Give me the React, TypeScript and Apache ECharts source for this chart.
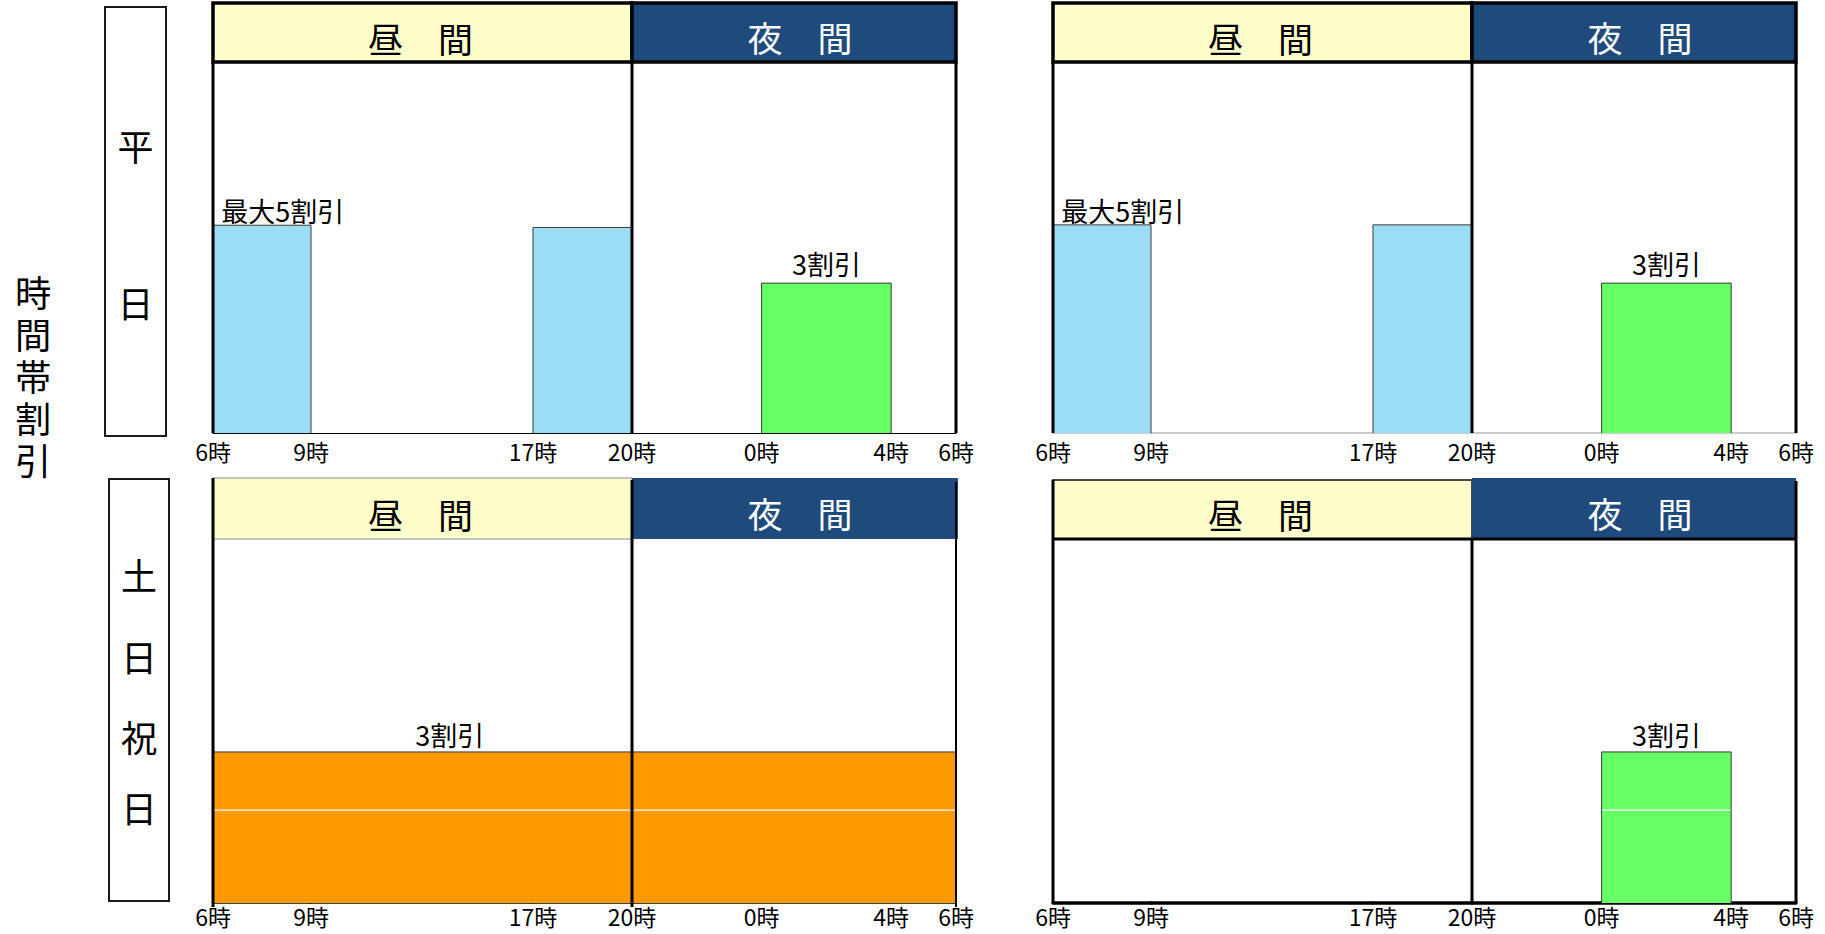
import React, { useEffect, useRef } from "react";
import * as echarts from "echarts";

// ---- data ----
// panels: 0 = 平日 (left), 1 = 平日 (right), 2 = 土日祝日 (left), 3 = 土日祝日 (right)
const rowTitles = ["平日", "土日祝日"];
const sideTitle = "時間帯割引";
const dayHeader = "昼　間";
const nightHeader = "夜　間";

// bars: hours (night hours after midnight written as 24+h)
const barPanel = [0, 0, 0, 1, 1, 1, 2, 2, 3];
const barStart = [6, 17, 24, 6, 17, 24, 6, 20, 24];
const barEnd = [9, 20, 28, 9, 20, 28, 20, 30, 28];
const barValue = [56, 55.4, 40.4, 56.1, 56.1, 40.4, 41.5, 41.5, 41.5];
const barSplit = [0, 0, 0, 0, 0, 0, 25.5, 25.5, 25.5];
const barKind = ["peak", "peak", "night", "peak", "peak", "night", "holiday", "holiday", "night"];

// annotations
const noteText = ["最大5割引", "3割引", "最大5割引", "3割引", "3割引", "3割引"];
const notePanel = [0, 0, 1, 1, 2, 3];
const noteHour = [6.25, 26, 6.25, 26, 14, 26];
const noteValue = [56, 40.4, 56.1, 40.4, 41.5, 41.5];
const noteAlign = ["left", "center", "left", "center", "center", "center"];

// axis: the diagram's time scale is drawn in segments (6-9, 9-17, 17-20, 20-6)
const segHours = [6, 9, 17, 20, 30];
const segTicks = [[6], [9], [17, 20], [24, 28, 30]];

// ---- layout / style ----
const FONT = "'Noto Sans CJK JP', 'Noto Sans', sans-serif";
const kindColor: Record<string, string> = {
  peak: "#9BDEF4",
  night: "#66FF66",
  holiday: "#FF9900",
};
const YELLOW = "#FFFFCC";
const NAVY = "#1F4A7C";
const panelLeft = [213, 1053, 213, 1053];
const segWidths = [98, 222, 99, 324];
const dayW = 419;
const nightW = 324;
const rowPlotTop = [62, 62, 539, 539];
const rowPlotBottom = [433, 433, 903, 903];
const rowHeaderTop = [3, 3, 478, 478];
const noteLift = [1, 6, 1, 6, 4, 4];
const axisStyle = [
  { color: "#000", width: 1.2 },
  { color: "#bbbbbb", width: 1.5 },
  { color: "#000", width: 1.5 },
  { color: "#000", width: 3.5 },
];

function buildOption() {
  const grid: any[] = [];
  const xAxis: any[] = [];
  const yAxis: any[] = [];
  const series: any[] = [];
  const graphic: any[] = [];

  for (let p = 0; p < 4; p++) {
    let x0 = panelLeft[p];
    for (let k = 0; k < segWidths.length; k++) {
      const gi = grid.length;
      const h0 = segHours[k];
      const h1 = segHours[k + 1];
      grid.push({
        left: x0,
        top: rowPlotTop[p],
        width: segWidths[k],
        height: rowPlotBottom[p] - rowPlotTop[p],
      });
      x0 += segWidths[k];
      xAxis.push({
        type: "value",
        gridIndex: gi,
        min: h0,
        max: h1,
        axisLine: { show: true, onZero: false, lineStyle: axisStyle[p] },
        axisTick: { show: false },
        splitLine: { show: false },
        axisLabel: {
          customValues: segTicks[k],
          formatter: (v: number) => `${v % 24}時`,
          fontSize: 23,
          lineHeight: 20,
          color: "#000",
          fontFamily: FONT,
          margin: p < 2 ? 8 : 3,
        },
      });
      yAxis.push({ type: "value", gridIndex: gi, min: 0, max: 100, show: false });

      // bar pieces clipped to this segment
      const pieces: number[][] = [];
      const pieceBar: number[] = [];
      barPanel.forEach((bp, i) => {
        if (bp !== p) return;
        const a = Math.max(barStart[i], h0);
        const b = Math.min(barEnd[i], h1);
        if (b > a) {
          pieces.push([a, b, barValue[i], barSplit[i], a === barStart[i] ? 1 : 0, b === barEnd[i] ? 1 : 0]);
          pieceBar.push(i);
        }
      });
      if (pieces.length) {
        series.push({
          type: "custom",
          xAxisIndex: gi,
          yAxisIndex: gi,
          z: 3,
          data: pieces,
          renderItem: (params: any, api: any) => {
            const i = pieceBar[params.dataIndex];
            const a = api.coord([api.value(0), api.value(2)]);
            const b = api.coord([api.value(1), 0]);
            const edge = { stroke: "#3a3a3a", lineWidth: 1 };
            const children: any[] = [
              {
                type: "rect",
                shape: { x: a[0], y: a[1], width: b[0] - a[0], height: b[1] - a[1] },
                style: { fill: kindColor[barKind[i]] },
              },
              { type: "line", shape: { x1: a[0], y1: a[1], x2: b[0], y2: a[1] }, style: edge },
            ];
            if (api.value(4)) children.push({ type: "line", shape: { x1: a[0], y1: a[1], x2: a[0], y2: b[1] }, style: edge });
            if (api.value(5)) children.push({ type: "line", shape: { x1: b[0], y1: a[1], x2: b[0], y2: b[1] }, style: edge });
            const sp = api.value(3);
            if (sp > 0) {
              const q = api.coord([api.value(0), sp]);
              children.push({
                type: "line",
                shape: { x1: a[0] + (api.value(4) ? 1 : 0), y1: q[1], x2: b[0] - (api.value(5) ? 1 : 0), y2: q[1] },
                style: { stroke: "#ffffff", lineWidth: 1.3 },
              });
            }
            return { type: "group", children };
          },
        });
      }

      const nIdx = notePanel
        .map((np, i) => i)
        .filter((i) => notePanel[i] === p && noteHour[i] >= h0 && noteHour[i] < h1);
      if (nIdx.length) {
        series.push({
          type: "custom",
          xAxisIndex: gi,
          yAxisIndex: gi,
          z: 4,
          clip: false,
          data: nIdx.map((i) => [noteHour[i], noteValue[i]]),
          renderItem: (params: any, api: any) => {
            const i = nIdx[params.dataIndex];
            const c = api.coord([api.value(0), api.value(1)]);
            return {
              type: "text",
              x: c[0],
              y: c[1] - noteLift[i],
              style: {
                text: noteText[i],
                fontSize: 27,
                fontFamily: FONT,
                fill: "#000",
                align: noteAlign[i],
                verticalAlign: "bottom",
              },
            };
          },
        });
      }
    }

    // headers and frame
    const L = panelLeft[p];
    const D = L + dayW;
    const R = D + nightW;
    const hT = rowHeaderTop[p];
    const hB = rowPlotTop[p];
    const bot = rowPlotBottom[p];
    const hMid = (hT + hB) / 2 + 5;
    if (p < 2) {
      graphic.push(
        { type: "rect", z: 50, shape: { x: L, y: hT, width: dayW, height: hB - hT }, style: { fill: YELLOW, stroke: "#000", lineWidth: 3.5 } },
        { type: "rect", z: 50, shape: { x: D, y: hT, width: nightW, height: hB - hT }, style: { fill: NAVY, stroke: "#000", lineWidth: 3.5 } },
        { type: "line", z: 60, shape: { x1: L, y1: hB, x2: L, y2: bot }, style: { stroke: "#000", lineWidth: 3 } },
        { type: "line", z: 60, shape: { x1: D, y1: hB, x2: D, y2: bot }, style: { stroke: "#000", lineWidth: 3 } },
        { type: "line", z: 60, shape: { x1: R, y1: hB, x2: R, y2: bot }, style: { stroke: "#000", lineWidth: 3 } }
      );
    } else if (p === 2) {
      graphic.push(
        { type: "rect", z: 50, shape: { x: L, y: hT, width: dayW, height: hB - hT }, style: { fill: YELLOW, stroke: "#888", lineWidth: 1 } },
        { type: "rect", z: 50, shape: { x: D, y: hT, width: nightW + 2, height: hB - hT }, style: { fill: NAVY } },
        { type: "line", z: 60, shape: { x1: L, y1: hT, x2: L, y2: bot + 4 }, style: { stroke: "#000", lineWidth: 3 } },
        { type: "line", z: 60, shape: { x1: D, y1: hT + 2, x2: D, y2: bot + 4 }, style: { stroke: "#000", lineWidth: 3 } },
        { type: "line", z: 60, shape: { x1: R, y1: hT + 4, x2: R, y2: bot + 4 }, style: { stroke: "#000", lineWidth: 2 } }
      );
    } else {
      graphic.push(
        { type: "rect", z: 50, shape: { x: L, y: hT + 2, width: dayW, height: hB - hT - 2 }, style: { fill: YELLOW, stroke: "#4a4a3a", lineWidth: 2 } },
        { type: "rect", z: 50, shape: { x: D, y: hT, width: nightW, height: hB - hT }, style: { fill: NAVY } },
        { type: "line", z: 60, shape: { x1: L, y1: hB, x2: R, y2: hB }, style: { stroke: "#000", lineWidth: 3 } },
        { type: "line", z: 60, shape: { x1: L, y1: hT + 2, x2: L, y2: bot }, style: { stroke: "#000", lineWidth: 3 } },
        { type: "line", z: 60, shape: { x1: D, y1: hB, x2: D, y2: bot }, style: { stroke: "#000", lineWidth: 3 } },
        { type: "line", z: 60, shape: { x1: R, y1: hT + 3, x2: R, y2: bot }, style: { stroke: "#000", lineWidth: 3 } }
      );
    }
    graphic.push(
      {
        type: "text",
        z: 70,
        x: L + dayW / 2 - 2,
        y: hMid,
        style: { text: dayHeader, fontSize: 35, fontFamily: FONT, fill: "#000", align: "center", verticalAlign: "middle", textAlign: "center", textVerticalAlign: "middle" },
      },
      {
        type: "text",
        z: 70,
        x: D + nightW / 2 + 6,
        y: hMid - 1,
        style: { text: nightHeader, fontSize: 35, fontFamily: FONT, fill: "#fff", align: "center", verticalAlign: "middle", textAlign: "center", textVerticalAlign: "middle" },
      }
    );
  }

  // side title: one character per line (small font, scaled up, to keep the tight stacking)
  sideTitle.split("").forEach((ch, k) => {
    graphic.push({
      type: "text",
      z: 70,
      x: 33,
      y: 291 + k * 42,
      scaleX: 1.25,
      scaleY: 1.25,
      style: {
        text: ch,
        fontSize: 29,
        lineHeight: 30,
        fontFamily: FONT,
        fill: "#000",
        align: "center",
        verticalAlign: "middle",
        textAlign: "center",
        textVerticalAlign: "middle",
      },
    });
  });
  const boxes = [
    { x: 105, y: 7, w: 61, h: 429, ys: [145, 302] },
    { x: 109, y: 479, w: 60, h: 422, ys: [574, 656, 736, 807] },
  ];
  boxes.forEach((b, r) => {
    graphic.push({ type: "rect", z: 50, shape: { x: b.x, y: b.y, width: b.w, height: b.h }, style: { fill: "#fff", stroke: "#1a1a1a", lineWidth: 2 } });
    rowTitles[r].split("").forEach((ch, k) => {
      graphic.push({
        type: "text",
        z: 70,
        x: b.x + b.w / 2,
        y: b.ys[k],
        style: { text: ch, fontSize: 36, fontFamily: FONT, fill: "#000", align: "center", verticalAlign: "middle", textAlign: "center", textVerticalAlign: "middle" },
      });
    });
  });

  return {
    animation: false,
    backgroundColor: "#ffffff",
    grid,
    xAxis,
    yAxis,
    series,
    graphic: { elements: graphic },
  };
}

export default function App() {
  const ref = useRef<HTMLDivElement>(null);
  useEffect(() => {
    if (!ref.current) return;
    const chart = echarts.init(ref.current, undefined, { renderer: "svg" });
    chart.setOption(buildOption() as any);
    return () => chart.dispose();
  }, []);
  return (
    <div
      ref={ref}
      style={{ position: "fixed", left: 0, top: 0, width: 1825, height: 934 }}
    />
  );
}
